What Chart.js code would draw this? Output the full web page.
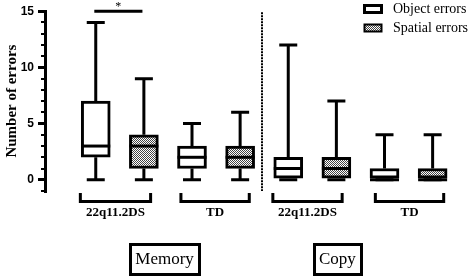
<!DOCTYPE html>
<html>
<head>
<meta charset="utf-8">
<script src="https://cdn.jsdelivr.net/npm/chart.js@4/dist/chart.umd.min.js"></script>
<style>
  html, body { margin: 0; padding: 0; background: #fff; }
</style>
</head>
<body>
<canvas id="chart" width="472" height="276"></canvas>
<script>
// one entry per box: Memory 22q / Memory TD / Copy 22q / Copy TD, object then spatial
const boxX = [1, 2, 3, 4, 5, 6, 7, 8];
const boxSeries = [0, 1, 0, 1, 0, 1, 0, 1];
const mins = [0, 0, 0, 0, 0, 0, 0, 0];
const q1s = [2, 1, 1, 1, 0, 0, 0, 0];
const medians = [3, 3, 2, 2, 1, 1, 0, 0];
const q3s = [7, 4, 3, 3, 2, 2, 1, 1];
const maxs = [14, 9, 5, 6, 12, 7, 4, 4];

const seriesNames = ['Object errors', 'Spatial errors'];
const groupLabels = ['22q11.2DS', 'TD', '22q11.2DS', 'TD'];
const groupRanges = [[0.68, 2.14], [2.77, 4.19], [4.68, 6.12], [6.81, 8.23]];
const taskLabels = ['Memory', 'Copy'];
const taskCenters = [2.43, 6.02];
const separatorX = 4.45;
const sigRange = [0.97, 1.97];
const sigLevel = 15;
const majorTicks = [0, 5, 10, 15];
const minorTicks = [-1, 0, 1, 2, 3, 4, 5, 6, 7, 8, 9, 10, 11, 12, 13, 14, 15];

const serif = "'Liberation Serif', 'Times New Roman', serif";

function stipple() {
  const p = document.createElement('canvas');
  p.width = 2;
  p.height = 2;
  const g = p.getContext('2d');
  g.fillStyle = '#fff';
  g.fillRect(0, 0, 2, 2);
  g.fillStyle = '#444';
  g.fillRect(0, 0, 1, 1);
  g.fillRect(1, 1, 1, 1);
  return g.createPattern(p, 'repeat');
}
const dots = stipple();
const fills = ['#fff', dots];

function seriesData(s) {
  return boxX
    .map((x, i) => ({ x: x, y: [q1s[i], q3s[i]], i: i }))
    .filter(d => boxSeries[d.i] === s);
}

const extras = {
  id: 'extras',
  beforeDatasetsDraw(chart) {
    const ctx = chart.ctx;
    const xs = chart.scales.x, ys = chart.scales.y;
    ctx.save();
    ctx.strokeStyle = '#000';
    ctx.lineWidth = 3;
    boxX.forEach((v, i) => {
      const x = xs.getPixelForValue(v);
      ctx.beginPath();
      ctx.moveTo(x, ys.getPixelForValue(q3s[i]));
      ctx.lineTo(x, ys.getPixelForValue(maxs[i]));
      ctx.moveTo(x, ys.getPixelForValue(q1s[i]));
      ctx.lineTo(x, ys.getPixelForValue(mins[i]));
      ctx.moveTo(x - 9, ys.getPixelForValue(maxs[i]));
      ctx.lineTo(x + 9, ys.getPixelForValue(maxs[i]));
      ctx.moveTo(x - 9, ys.getPixelForValue(mins[i]));
      ctx.lineTo(x + 9, ys.getPixelForValue(mins[i]));
      ctx.stroke();
    });
    ctx.restore();
  },
  afterDatasetsDraw(chart) {
    const ctx = chart.ctx;
    const xs = chart.scales.x, ys = chart.scales.y;
    const area = chart.chartArea;
    ctx.save();
    ctx.strokeStyle = '#000';
    ctx.fillStyle = '#000';
    ctx.lineWidth = 3;

    // medians
    boxX.forEach((v, i) => {
      const x = xs.getPixelForValue(v);
      const y = ys.getPixelForValue(medians[i]);
      ctx.beginPath();
      ctx.moveTo(x - 14.5, y);
      ctx.lineTo(x + 14.5, y);
      ctx.stroke();
    });

    // significance bar
    const sy = ys.getPixelForValue(sigLevel);
    const sx1 = xs.getPixelForValue(sigRange[0]);
    const sx2 = xs.getPixelForValue(sigRange[1]);
    ctx.beginPath();
    ctx.moveTo(sx1, sy);
    ctx.lineTo(sx2, sy);
    ctx.stroke();
    ctx.font = '12px ' + serif;
    ctx.textAlign = 'center';
    ctx.textBaseline = 'top';
    ctx.fillText('*', (sx1 + sx2) / 2, 1);

    // dotted separator
    ctx.save();
    ctx.lineWidth = 2;
    ctx.setLineDash([2, 1]);
    const dx = Math.round(xs.getPixelForValue(separatorX));
    ctx.beginPath();
    ctx.moveTo(dx, ys.getPixelForValue(14.9));
    ctx.lineTo(dx, ys.getPixelForValue(-1));
    ctx.stroke();
    ctx.restore();

    // group brackets and labels
    const bTop = area.bottom + 2;
    const bBot = area.bottom + 12;
    ctx.font = 'bold 13px ' + serif;
    ctx.textBaseline = 'middle';
    groupRanges.forEach((r, k) => {
      const x1 = xs.getPixelForValue(r[0]);
      const x2 = xs.getPixelForValue(r[1]);
      ctx.beginPath();
      ctx.moveTo(x1, bTop);
      ctx.lineTo(x1, bBot - 1.5);
      ctx.lineTo(x2, bBot - 1.5);
      ctx.lineTo(x2, bTop);
      ctx.stroke();
      ctx.fillText(groupLabels[k], (x1 + x2) / 2, area.bottom + 22);
    });

    // task boxes
    ctx.font = '17px ' + serif;
    taskLabels.forEach((t, k) => {
      const cx = xs.getPixelForValue(taskCenters[k]);
      const w = ctx.measureText(t).width + 10;
      ctx.strokeRect(Math.round(cx - w / 2) + 0.5, 244.5, Math.round(w), 30);
      ctx.fillText(t, cx, 260);
    });

    // legend
    ctx.textAlign = 'left';
    ctx.font = '14px ' + serif;
    const legendY = [9, 28];
    seriesNames.forEach((name, k) => {
      const y = legendY[k];
      ctx.fillStyle = fills[k];
      ctx.fillRect(364, y - 4, 18, 8);
      ctx.lineWidth = k === 0 ? 3 : 2;
      ctx.strokeRect(364.5, y - 3.5, 17, 7);
      ctx.fillStyle = '#000';
      ctx.fillText(name, 393, y);
    });
    ctx.restore();
  }
};

new Chart(document.getElementById('chart'), {
  type: 'bar',
  data: {
    datasets: seriesNames.map((name, s) => ({
      label: name,
      data: seriesData(s),
      backgroundColor: fills[s],
      borderColor: '#000',
      borderWidth: 3,
      borderSkipped: false,
      barThickness: 29,
      grouped: false
    }))
  },
  options: {
    responsive: false,
    animation: false,
    layout: { padding: { top: 11, bottom: 85, left: 0, right: 0 } },
    plugins: {
      legend: { display: false },
      tooltip: { enabled: false }
    },
    scales: {
      x: {
        type: 'linear',
        min: 0.5,
        max: 0.5 + 427 / 55,
        display: false
      },
      y: {
        position: 'left',
        weight: 1,
        min: -1,
        max: 15,
        afterBuildTicks: s => { s.ticks = majorTicks.map(v => ({ value: v })); },
        ticks: {
          padding: 4,
          color: '#000',
          font: { family: "'Liberation Sans', Arial, sans-serif", weight: 'bold', size: 12 }
        },
        grid: {
          drawOnChartArea: false,
          tickLength: 7,
          lineWidth: 3,
          color: '#000'
        },
        border: { display: true, color: '#000', width: 3 },
        title: {
          display: true,
          text: 'Number of errors',
          color: '#000',
          font: { family: serif, weight: 'bold', size: 15 },
          padding: { top: 3, bottom: 0 }
        },
        afterFit: s => { s.width = 45; }
      },
      y2: {
        position: 'left',
        weight: 0,
        min: -1,
        max: 15,
        afterBuildTicks: s => { s.ticks = minorTicks.map(v => ({ value: v })); },
        ticks: { display: false },
        grid: { drawOnChartArea: false, tickLength: 4, lineWidth: 2, color: '#000' },
        border: { display: false },
        afterFit: s => { s.width = 0; }
      }
    }
  },
  plugins: [extras]
});
</script>
</body>
</html>
